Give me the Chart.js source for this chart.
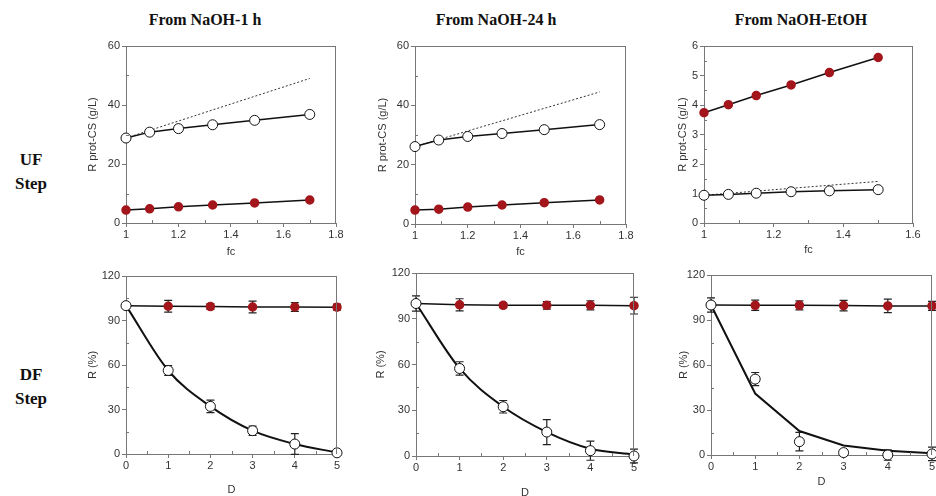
<!DOCTYPE html>
<html>
<head>
<meta charset="utf-8">
<script src="https://cdn.jsdelivr.net/npm/chart.js@4.4.1/dist/chart.umd.min.js"></script>
<style>
    body { margin: 0; width: 936px; height: 496px; background: #fff; position: relative; overflow: hidden; }
    .panel { position: absolute; }
    .title { position: absolute; top: 10px; font-family: "Liberation Serif", serif; font-weight: bold; font-size: 16px; line-height: 20px; color: #111; transform: translateX(-50%); white-space: nowrap; }
    .row { position: absolute; left: 1px; width: 60px; font-family: "Liberation Serif", serif; font-weight: bold; font-size: 17px; line-height: 24px; text-align: center; color: #111; }
</style>
</head>
<body>
<div class="title" style="left:205px">From NaOH-1 h</div>
<div class="title" style="left:496px">From NaOH-24 h</div>
<div class="title" style="left:801px">From NaOH-EtOH</div>
<div class="row" style="top:148px">UF<br>Step</div>
<div class="row" style="top:363px">DF<br>Step</div>

<script>
/* ---- Data ---- */

// UF step: retention vs concentration factor
const fc1h = [1, 1.09, 1.2, 1.33, 1.49, 1.7];
const ufOpen1h = [28.8, 30.8, 32.0, 33.3, 34.8, 36.8];
const ufRed1h = [4.4, 4.8, 5.5, 6.1, 6.8, 7.8];
const idealFc1h = [1, 1.7];
const ideal1h = [28.8, 49.0];

const fc24h = [1, 1.09, 1.2, 1.33, 1.49, 1.7];
const ufOpen24h = [26.1, 28.3, 29.5, 30.5, 31.8, 33.5];
const ufRed24h = [4.7, 5.0, 5.7, 6.4, 7.2, 8.1];
const idealFc24h = [1, 1.7];
const ideal24h = [26.1, 44.5];

const fcEt = [1, 1.07, 1.15, 1.25, 1.36, 1.5];
const ufOpenEt = [0.94, 0.97, 1.01, 1.06, 1.09, 1.13];
const ufRedEt = [3.74, 4.01, 4.32, 4.68, 5.10, 5.61];
const idealFcEt = [1, 1.5];
const idealEt = [0.94, 1.41];

// DF step: retention (%) vs diavolumes
const D = [0, 1, 2, 3, 4, 5];

const dfOpen1h = [100, 56.3, 32.1, 15.7, 6.7, 0.8];
const dfOpenErr1h = [0, 3.3, 4.2, 3.1, 7, 0];
const dfRed1h = [100, 99.6, 99.4, 99.1, 99.1, 99.0];
const dfRedErr1h = [0, 4, 2, 4, 3, 2];
const dfModel1h = [100, 56.3, 32.1, 15.7, 6.7, 1.0];

const dfOpen24h = [100, 57.4, 32.3, 15.7, 3.5, 0];
const dfOpenErr24h = [5, 4.4, 4.1, 8.2, 6.3, 4.5];
const dfRed24h = [100, 99.1, 98.8, 98.8, 98.8, 98.6];
const dfRedErr24h = [0, 4, 1.5, 2.5, 3, 5.5];
const dfModel24h = [100, 57.4, 32.3, 15.7, 4.8, 1.0];

const dfOpenEt = [100, 50.6, 8.9, 1.6, 0, 0.7];
const dfOpenErrEt = [4.7, 4.4, 6.2, 2, 3.5, 4.5];
const dfRedEt = [100, 99.8, 99.8, 99.6, 99.4, 99.4];
const dfRedErrEt = [0, 3.4, 3, 3.5, 4.5, 3];
const dfModelEt = [100, 41, 16, 6.4, 2.9, 1.1];

// Tick labels
const fcTicks = [1, 1.2, 1.4, 1.6, 1.8];
const fcTicksEt = [1, 1.2, 1.4, 1.6];
const ufTicks = [0, 20, 40, 60];
const ufTicksEt = [0, 1, 2, 3, 4, 5, 6];
const dTicks = [0, 1, 2, 3, 4, 5];
const rTicks = [0, 30, 60, 90, 120];

/* ---- Styling ---- */

const TEXT = "#333";
const AXIS = "#777";
const RED = "#a3161b";
const INK = "#111";
const Y_AXIS_W = 46;
const PAD_TOP = 10;
const PAD_RIGHT = 10;
const TITLE_LH = 13.2;

Chart.defaults.font.family = '"Liberation Sans", Arial, sans-serif';
Chart.defaults.font.size = 11;
Chart.defaults.color = TEXT;

function pts(xs, ys) {
    return xs.map((x, i) => ({ x, y: ys[i] }));
}

function ufSets(fc, open, red, idealFc, ideal) {
    return [
        { data: pts(fc, open), showLine: true, borderColor: INK, borderWidth: 1.5,
          pointRadius: 5, pointBackgroundColor: "#fff", pointBorderColor: INK, pointBorderWidth: 1, clip: false },
        { data: pts(fc, red), showLine: true, borderColor: INK, borderWidth: 1.5,
          pointRadius: 4, pointBackgroundColor: RED, pointBorderColor: RED, clip: false },
        { data: pts(idealFc, ideal), showLine: true, borderColor: "#333", borderWidth: 1,
          borderDash: [2, 2], pointRadius: 0 },
    ];
}

function dfSets(open, openErr, red, redErr, model, smooth) {
    return [
        { data: pts(D, open), errors: openErr, showLine: false,
          pointRadius: 5, pointBackgroundColor: "#fff", pointBorderColor: INK, pointBorderWidth: 1, clip: false },
        { data: pts(D, red), errors: redErr, showLine: true, borderColor: INK, borderWidth: 1.5,
          pointRadius: 4, pointBackgroundColor: RED, pointBorderColor: RED, clip: false },
        { data: pts(D, model), showLine: true, borderColor: INK, borderWidth: 2, pointRadius: 0,
          cubicInterpolationMode: smooth ? "monotone" : "default", tension: 0, clip: false },
    ];
}

// area = [left, top, right, bottom] of the plot box on the page
const panels = [
    { area: [126, 46, 336, 223], xAxisH: 40, yTitleX: 93, xTitleY: 252,
      xTicks: fcTicks, yTicks: ufTicks, xTitle: "fc", yTitle: "R prot-CS (g/L)",
      datasets: ufSets(fc1h, ufOpen1h, ufRed1h, idealFc1h, ideal1h) },
    { area: [415, 46, 626, 224], xAxisH: 40, yTitleX: 383, xTitleY: 252,
      xTicks: fcTicks, yTicks: ufTicks, xTitle: "fc", yTitle: "R prot-CS (g/L)",
      datasets: ufSets(fc24h, ufOpen24h, ufRed24h, idealFc24h, ideal24h) },
    { area: [704, 46, 913, 223], xAxisH: 40, yTitleX: 683, xTitleY: 250,
      xTicks: fcTicksEt, yTicks: ufTicksEt, xTitle: "fc", yTitle: "R prot-CS (g/L)",
      datasets: ufSets(fcEt, ufOpenEt, ufRedEt, idealFcEt, idealEt) },
    { area: [126, 276, 337, 454], xAxisH: 46, yTitleX: 93, xTitleY: 490,
      xTicks: dTicks, yTicks: rTicks, xTitle: "D", yTitle: "R (%)",
      datasets: dfSets(dfOpen1h, dfOpenErr1h, dfRed1h, dfRedErr1h, dfModel1h, true) },
    { area: [416, 273, 634, 456], xAxisH: 46, yTitleX: 381, xTitleY: 493,
      xTicks: dTicks, yTicks: rTicks, xTitle: "D", yTitle: "R (%)",
      datasets: dfSets(dfOpen24h, dfOpenErr24h, dfRed24h, dfRedErr24h, dfModel24h, true) },
    { area: [711, 275, 932, 455], xAxisH: 46, yTitleX: 684, xTitleY: 482,
      xTicks: dTicks, yTicks: rTicks, xTitle: "D", yTitle: "R (%)",
      datasets: dfSets(dfOpenEt, dfOpenErrEt, dfRedEt, dfRedErrEt, dfModelEt, false) },
];

/* ---- Plugins ---- */

const errorBars = {
    id: "errorBars",
    beforeDatasetsDraw(chart) {
        const { ctx, scales: { x, y } } = chart;
        ctx.save();
        ctx.strokeStyle = "#222";
        ctx.lineWidth = 1.2;
        chart.data.datasets.forEach((ds) => {
            if (!ds.errors) return;
            ds.data.forEach((p, i) => {
                const e = ds.errors[i];
                if (!e) return;
                const px = x.getPixelForValue(p.x);
                const y1 = y.getPixelForValue(p.y + e);
                const y2 = y.getPixelForValue(p.y - e);
                ctx.beginPath();
                ctx.moveTo(px, y1); ctx.lineTo(px, y2);
                ctx.moveTo(px - 4, y1); ctx.lineTo(px + 4, y1);
                ctx.moveTo(px - 4, y2); ctx.lineTo(px + 4, y2);
                ctx.stroke();
            });
        });
        ctx.restore();
    },
};

const frame = {
    id: "frame",
    afterDraw(chart) {
        const { ctx, chartArea: a, scales: { x, y } } = chart;
        ctx.save();
        ctx.strokeStyle = AXIS;
        ctx.lineWidth = 1;
        ctx.beginPath();
        ctx.moveTo(a.left, a.top + 0.5); ctx.lineTo(a.right, a.top + 0.5);
        ctx.moveTo(a.right - 0.5, a.top); ctx.lineTo(a.right - 0.5, a.bottom);
        // minor ticks, inward, halfway between labelled ticks
        const xt = x.ticks.map((t) => t.value);
        for (let i = 0; i < xt.length - 1; i++) {
            const px = Math.round(x.getPixelForValue((xt[i] + xt[i + 1]) / 2)) + 0.5;
            ctx.moveTo(px, a.bottom); ctx.lineTo(px, a.bottom - 3);
        }
        const yt = y.ticks.map((t) => t.value);
        for (let i = 0; i < yt.length - 1; i++) {
            const py = Math.round(y.getPixelForValue((yt[i] + yt[i + 1]) / 2)) + 0.5;
            ctx.moveTo(a.left, py); ctx.lineTo(a.left + 3, py);
        }
        ctx.stroke();
        ctx.restore();
    },
};

/* ---- Build charts ---- */

function fmt(v) {
    return String(Number(v.toFixed(2)));
}

panels.forEach((p) => {
    const [l, t, r, b] = p.area;
    const left = l - Y_AXIS_W;
    const top = t - PAD_TOP;
    const width = r - l + Y_AXIS_W + PAD_RIGHT;
    const height = b - t + PAD_TOP + p.xAxisH;

    const wrap = document.createElement("div");
    wrap.className = "panel";
    wrap.style.left = `${left}px`;
    wrap.style.top = `${top}px`;
    const canvas = document.createElement("canvas");
    canvas.width = width;
    canvas.height = height;
    canvas.style.width = `${width}px`;
    canvas.style.height = `${height}px`;
    wrap.appendChild(canvas);
    document.body.appendChild(wrap);

    const axisCommon = {
        type: "linear",
        border: { display: true, color: AXIS, width: 1 },
        grid: { display: true, drawOnChartArea: false, drawTicks: true, tickLength: 4, color: AXIS },
    };

    new Chart(canvas.getContext("2d"), {
        type: "scatter",
        data: { datasets: p.datasets },
        options: {
            responsive: false,
            animation: false,
            events: [],
            layout: { padding: { left: 0, top: PAD_TOP, right: PAD_RIGHT, bottom: 0 } },
            plugins: { legend: { display: false }, tooltip: { enabled: false } },
            scales: {
                x: {
                    ...axisCommon,
                    position: "bottom",
                    min: p.xTicks[0],
                    max: p.xTicks[p.xTicks.length - 1],
                    afterBuildTicks: (s) => { s.ticks = p.xTicks.map((v) => ({ value: v })); },
                    afterFit: (s) => { s.height = p.xAxisH; },
                    ticks: { padding: 1, maxRotation: 0, autoSkip: false, color: TEXT, callback: fmt },
                    title: {
                        display: true, text: p.xTitle, color: TEXT, font: { size: 11 },
                        padding: { top: 0, bottom: (b + p.xAxisH) - p.xTitleY - TITLE_LH / 2 },
                    },
                },
                y: {
                    ...axisCommon,
                    position: "left",
                    min: p.yTicks[0],
                    max: p.yTicks[p.yTicks.length - 1],
                    afterBuildTicks: (s) => { s.ticks = p.yTicks.map((v) => ({ value: v })); },
                    afterFit: (s) => { s.width = Y_AXIS_W; },
                    ticks: { padding: 2, autoSkip: false, color: TEXT, callback: fmt },
                    title: {
                        display: true, text: p.yTitle, color: TEXT, font: { size: 11 },
                        padding: { top: p.yTitleX - left - TITLE_LH / 2, bottom: 0 },
                    },
                },
            },
        },
        plugins: [errorBars, frame],
    });
});
</script>
</body>
</html>
